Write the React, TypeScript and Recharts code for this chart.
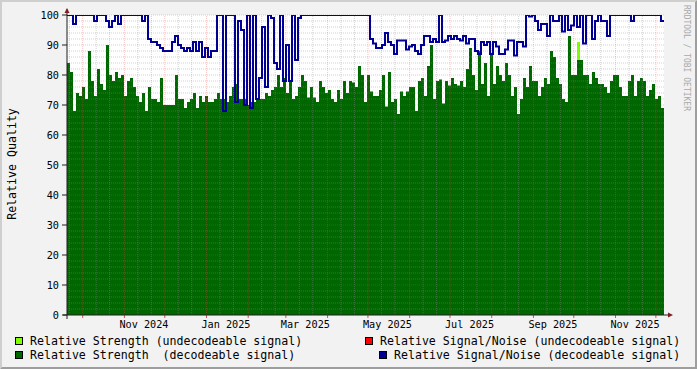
import React from "react";
import { ComposedChart, Area, Line, XAxis, YAxis, ReferenceLine, CartesianGrid } from "recharts";

// ---- time range of the samples (evenly spaced) ----
const sampleStart = "2024-09-19T08:00:00Z";
const sampleEnd = "2025-12-07T01:00:00Z";

// ---- Relative Strength (decodeable signal) ----
const strengthDecodeable = [
  84, 81, 68, 74, 73, 76, 72, 88, 78, 73, 82, 77, 75, 90, 80, 78, 81, 79, 80, 73, 78, 79, 76, 73, 71, 74, 68, 76, 72, 72, 71, 79, 70, 70,
  70, 70, 80, 72, 72, 69, 71, 72, 74, 69, 73, 71, 73, 71, 71, 72, 74, 72, 72, 71, 73, 76, 77, 72, 72, 72, 70, 71, 71, 72, 72, 72, 74, 73,
  75, 76, 80, 76, 79, 74, 78, 72, 73, 76, 80, 78, 72.5, 76, 72.5, 71, 78, 76, 74, 75, 72, 71, 75, 72, 78, 74, 78, 77.5, 76, 83, 80, 71, 80, 74.5,
  73, 73, 75, 80, 69.5, 81, 71, 72, 67, 74.5, 73, 74.5, 76, 76, 68, 78, 79, 73, 83, 90, 72, 78, 78.5, 70.5, 78, 76.5, 79, 77, 76.5, 78, 76, 82, 89, 80,
  75, 88, 77, 84, 73, 87, 77, 83, 80, 78, 84, 80, 73, 76, 67, 72, 79, 76, 83, 78, 78, 73, 76, 79, 77, 88, 86, 79, 77, 72, 71, 93, 80, 80,
  85, 85, 80, 80, 77, 81, 79, 77, 77, 76, 74, 78, 80, 80, 76, 73, 73, 78, 80, 73, 78, 79, 78, 73, 75, 77, 72, 73, 69, 76,
];

// ---- Relative Signal/Noise (decodeable signal) ----
const snrDecodeable = [
  100, 100, 97, 100, 100, 100, 100, 100, 100, 98, 100, 100, 100, 98, 96, 98, 100, 97, 100, 100, 100, 100, 100, 100, 100, 98, 100, 92, 91, 91, 90, 89, 88, 88,
  88, 91, 93, 90, 89, 88, 89, 88, 91, 88, 91, 86, 89, 86, 88, 88, 100, 100, 68, 100, 100, 100, 71, 98, 95, 70, 100, 69, 100, 72, 79, 96, 76, 100,
  99, 84, 82, 100, 78, 90, 78, 100, 85, 99, 100, 100, 100, 100, 100, 100, 100, 100, 100, 100, 100, 100, 100, 100, 100, 100, 100, 100, 100, 100, 100, 100, 100, 92,
  90.5, 89, 89, 90, 94, 91, 90, 87, 91.5, 91.5, 91.5, 88.5, 89.5, 90, 88, 87, 90, 93, 93, 91, 92, 91, 100, 91, 91.5, 93, 92, 93, 92, 91.5, 93, 90.5, 92, 92,
  88, 87, 91, 90, 91, 87, 91, 89.5, 87, 87, 88.5, 91.5, 91.5, 86.5, 91, 91, 89.5, 100, 99.5, 100, 98, 95, 97, 97, 93, 100, 98, 98, 100, 94.5, 100, 95, 96.5, 100,
  96, 100, 90.5, 100, 100, 92, 98, 100, 98, 98, 93, 100, 100, 100, 100, 100, 100, 100, 98, 100, 100, 100, 100, 100, 100, 100, 100, 100, 98, 98,
];

// ---- Relative Strength (undecodeable signal): only non-zero samples ----
const strengthUndecodeable = [{ sample: 170, value: 91 }];

// ---- axis ticks / grid ----
const yTicks = [0, 10, 20, 30, 40, 50, 60, 70, 80, 90, 100];
const yMajorGrid = [10, 20, 30, 40, 50, 60, 70, 80, 90, 100];
const yMinorGrid = [2, 4, 6, 8, 12, 14, 16, 18, 22, 24, 26, 28, 32, 34, 36, 38, 42, 44, 46, 48, 52, 54, 56, 58, 62, 64, 66, 68, 72, 74, 76, 78, 82, 84, 86, 88, 92, 94, 96, 98];
const xLabels = ["Nov 2024", "Jan 2025", "Mar 2025", "May 2025", "Jul 2025", "Sep 2025", "Nov 2025"];
const xLabelDates = ["2024-11-15T12:00:00Z", "2025-01-15T12:00:00Z", "2025-03-15T12:00:00Z", "2025-05-15T12:00:00Z", "2025-07-15T12:00:00Z", "2025-09-15T12:00:00Z", "2025-11-15T12:00:00Z"];
const monthStarts = ["2024-10-01", "2024-11-01", "2024-12-01", "2025-01-01", "2025-02-01", "2025-03-01", "2025-04-01", "2025-05-01", "2025-06-01", "2025-07-01", "2025-08-01", "2025-09-01", "2025-10-01", "2025-11-01", "2025-12-01"];
const minorDates = ["2024-09-21", "2024-10-11", "2024-10-21", "2024-11-11", "2024-11-21", "2024-12-11", "2024-12-21", "2025-01-11", "2025-01-21", "2025-02-11", "2025-02-21", "2025-03-11", "2025-03-21", "2025-04-11", "2025-04-21", "2025-05-11", "2025-05-21", "2025-06-11", "2025-06-21", "2025-07-11", "2025-07-21", "2025-08-11", "2025-08-21", "2025-09-11", "2025-09-21", "2025-10-11", "2025-10-21", "2025-11-11", "2025-11-21"];

const legendItems = [
  { label: "Relative Strength (undecodeable signal)", color: "#80FF00" },
  { label: "Relative Signal/Noise (undecodeable signal)", color: "#FF0000" },
  { label: "Relative Strength  (decodeable signal)", color: "#006600" },
  { label: "Relative Signal/Noise (decodeable signal)", color: "#000094" },
];

const FONT = "'DejaVu Sans Mono', monospace";
const tStart = Date.parse(sampleStart);
const tEnd = Date.parse(sampleEnd);
const n = strengthDecodeable.length;

const table = strengthDecodeable.map((v, i) => {
  const u = strengthUndecodeable.find((p) => p.sample === i);
  return {
    t: tStart + (i * (tEnd - tStart)) / (n - 1),
    strength: v,
    light: u ? u.value : 0,
    snr: snrDecodeable[i],
  };
});

const labelTicks = xLabelDates.map((d) => Date.parse(d));
const fmtX = (v: number) => {
  const k = labelTicks.indexOf(v);
  return k >= 0 ? xLabels[k] : "";
};

const GRID = "rgba(143,143,143,0.4)";
const MGRID = "rgba(222,79,79,0.32)";

export default function App() {
  return (
    <div style={{ position: "absolute", left: 0, top: 0, width: 697, height: 369, background: "#F2F2F2", fontFamily: FONT }}>
      <ComposedChart width={697} height={369} data={table} margin={{ top: 15, right: 33, bottom: 0, left: 0 }}>
        <CartesianGrid horizontal={false} vertical={false} fill="#FFFFFF" fillOpacity={1} />
        <XAxis
          dataKey="t"
          type="number"
          domain={[tStart, tEnd]}
          allowDataOverflow
          ticks={labelTicks}
          interval={0}
          tickFormatter={fmtX}
          tickLine={false}
          tickSize={0}
          tickMargin={6}
          height={54}
          axisLine={{ stroke: "#1F1F1F" }}
          tick={{ fontSize: 10.2, fill: "#000", fontFamily: FONT }}
        />
        <YAxis
          type="number"
          domain={[0, 100]}
          ticks={yTicks}
          interval={0}
          allowDataOverflow
          width={67}
          tickSize={5}
          tickMargin={3}
          axisLine={{ stroke: "#1F1F1F" }}
          tickLine={{ stroke: "#1F1F1F" }}
          tick={{ fontSize: 10.2, fill: "#000", fontFamily: FONT }}
        />
        <Area dataKey="light" type="stepAfter" fill="#80FF00" fillOpacity={1} stroke="none" dot={false} activeDot={false} isAnimationActive={false} />
        <Area dataKey="strength" type="stepAfter" fill="#006600" fillOpacity={1} stroke="none" dot={false} activeDot={false} isAnimationActive={false} />
        {yMinorGrid.map((y) => (
          <ReferenceLine key={"ym" + y} y={y} stroke={GRID} strokeDasharray="1 1" />
        ))}
        {minorDates.map((d) => (
          <ReferenceLine key={"xm" + d} x={Date.parse(d)} stroke={GRID} strokeDasharray="1 1" />
        ))}
        {yMajorGrid.map((y) => (
          <ReferenceLine key={"yM" + y} y={y} stroke={MGRID} strokeDasharray="1 1" />
        ))}
        {monthStarts.map((d) => (
          <ReferenceLine key={"xM" + d} x={Date.parse(d)} stroke={MGRID} strokeDasharray="1 1" />
        ))}
        {monthStarts.map((d) => (
          <ReferenceLine
            key={"xt" + d}
            ifOverflow="visible"
            segment={[{ x: Date.parse(d), y: 0 }, { x: Date.parse(d), y: -1 }]}
            stroke="#DE4F4F"
          />
        ))}
        <Line dataKey="snr" type="stepAfter" stroke="#000094" strokeWidth={2} dot={false} activeDot={false} isAnimationActive={false} />
      </ComposedChart>
      <svg width={697} height={369} style={{ position: "absolute", left: 0, top: 0, pointerEvents: "none" }}>
        <polygon points="0,0 697,0 695,2 2,2 2,367 0,369" fill="#CFCFCF" />
        <polygon points="697,0 697,369 0,369 2,367 695,367 695,2" fill="#9E9E9E" />
        <line x1={67} y1={9} x2={67} y2={15} stroke="#1F1F1F" />
        <line x1={67} y1={315} x2={67} y2={319} stroke="#1F1F1F" />
        <line x1={63} y1={315} x2={67} y2={315} stroke="#1F1F1F" />
        <line x1={664} y1={315} x2={669} y2={315} stroke="#1F1F1F" />
        <polygon points="64.5,13 69.5,13 67,8" fill="#801F1F" />
        <polygon points="668,312.5 668,317.5 673,315" fill="#801F1F" />
        <text transform="translate(16,164) rotate(-90)" textAnchor="middle" fontSize={11.6} fontFamily={FONT} fill="#000">
          Relative Quality
        </text>
        <text transform="translate(684,5) rotate(90)" textAnchor="start" fontSize={8} fontFamily={FONT} fill="#A9A9A9">
          RRDTOOL / TOBI OETIKER
        </text>
        {legendItems.map((it, k) => {
          const row = k < 2 ? 0 : 1;
          const right = k % 2 === 1;
          const textX = right ? (row === 0 ? 380 : 394) : 30;
          const boxX = textX - 14.5;
          const base = row === 0 ? 345 : 359;
          return (
            <g key={it.label}>
              <rect x={boxX} y={base - 7.5} width={7} height={7} fill={it.color} stroke="#000" strokeWidth={1} />
              <text x={textX} y={base} fontSize={11.6} fontFamily={FONT} fill="#000" style={{ whiteSpace: "pre" }}>
                {it.label}
              </text>
            </g>
          );
        })}
      </svg>
    </div>
  );
}
